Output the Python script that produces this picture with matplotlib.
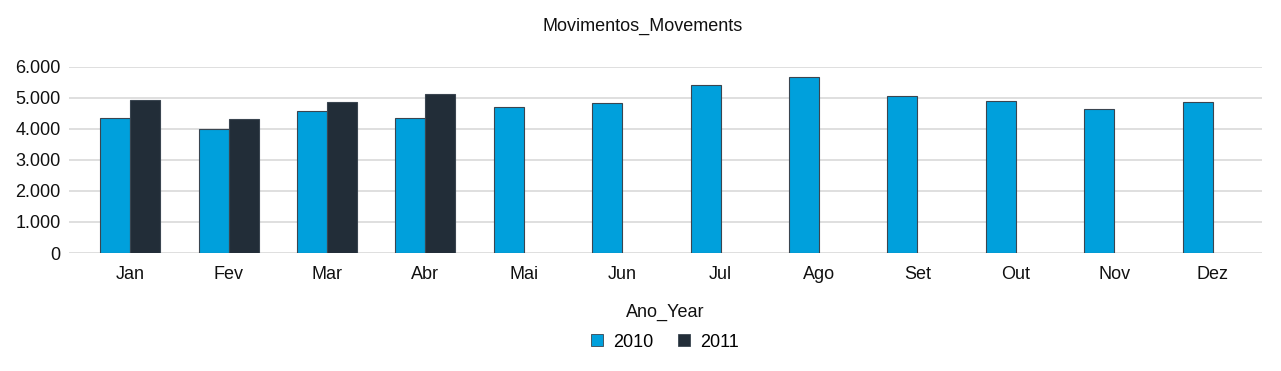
import matplotlib.pyplot as plt
import numpy as np
from matplotlib.ticker import FuncFormatter
from matplotlib.lines import Line2D

plt.rcParams['font.family'] = ['Liberation Sans', 'DejaVu Sans']

# Data
months = ['Jan', 'Fev', 'Mar', 'Abr', 'Mai', 'Jun', 'Jul', 'Ago', 'Set', 'Out', 'Nov', 'Dez']
mov_2010 = [4355, 4000, 4560, 4335, 4690, 4840, 5400, 5670, 5055, 4895, 4635, 4860]
mov_2011 = [4935, 4325, 4860, 5130]

c2010 = '#00a0dc'
c2011 = '#222d38'
edge = '#3a4550'

fig = plt.figure(figsize=(12.81, 3.71), dpi=100)
ax = fig.add_axes([0.054, 0.318, 0.931, 0.502])

x = np.arange(len(months))
w = 0.305
# 2010 bar sits left of the tick, 2011 right of it
ax.bar(x, mov_2010, width=-w, align='edge', color=c2010, edgecolor=edge, linewidth=0.8, zorder=3)
ax.bar(x[:len(mov_2011)], mov_2011, width=w, align='edge', color=c2011, edgecolor=edge,
       linewidth=0.8, zorder=3)

ax.set_xlim(-0.62, 11.5)
ax.set_ylim(0, 6000)
ax.set_yticks(range(0, 6001, 1000))
ax.yaxis.set_major_formatter(FuncFormatter(lambda v, _: f'{int(v):,}'.replace(',', '.')))
ax.set_xticks(x)
ax.set_xticklabels(months)
ax.tick_params(axis='both', length=0, labelsize=13, colors='#111111')
ax.tick_params(axis='x', pad=9)
ax.tick_params(axis='y', pad=6)
ax.grid(axis='y', color='#d9d9d9', linewidth=1.2, zorder=0)
for s in ax.spines.values():
    s.set_visible(False)

ax.set_xlabel('Ano_Year', fontsize=13, labelpad=15, color='#111111')
fig.text(0.502, 0.93, 'Movimentos_Movements', ha='center', va='center', fontsize=13, color='#111111')

handles = [Line2D([], [], marker='s', linestyle='none', markersize=8.5, markerfacecolor=c,
                  markeredgecolor=edge, markeredgewidth=0.6) for c in (c2010, c2011)]
fig.legend(handles, ['2010', '2011'], loc='center', bbox_to_anchor=(0.518, 0.078), ncol=2,
           frameon=False, fontsize=13, handletextpad=0.4, columnspacing=1.2, handlelength=1.0)

plt.savefig('out.png', dpi=100, facecolor='white')
